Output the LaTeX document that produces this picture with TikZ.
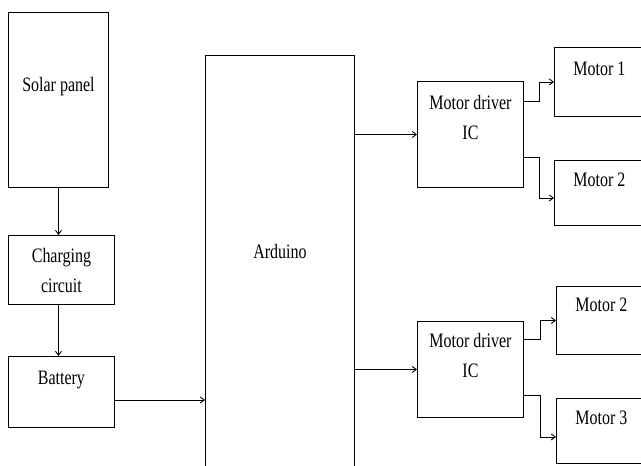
\documentclass[tikz,border=0pt]{standalone}
\usepackage{fontspec}
\setmainfont{Liberation Serif}[FakeStretch=0.78]
\usetikzlibrary{arrows.meta,positioning}

\begin{document}
\begin{tikzpicture}[
  x=1pt, y=1pt,
  blk/.style={draw, line width=0.9pt, anchor=north west, inner sep=0pt},
  lbl/.style={anchor=north, inner sep=0pt, align=center, font=\fontsize{20.5}{30}\selectfont},
  arr/.style={-{Straight Barb[length=4pt,width=6pt]}, line width=0.9pt}
]
\useasboundingbox (0,0) rectangle (641,-466);

% power chain
\node[blk, minimum width=100pt, minimum height=175pt] (solar) at (8,-12) {};
\node[blk, minimum width=106pt, minimum height=69pt] (charging) at (8,-235) {};
\node[blk, minimum width=106pt, minimum height=71pt] (battery) at (8,-356) {};
\node[lbl, below=65pt of solar.north] (solarT) {Solar panel};
\node[lbl, below=13pt of charging.north] (chargingT) {Charging\\circuit};
\node[lbl, below=15pt of battery.north] (batteryT) {Battery};

% controller
\node[blk, minimum width=149pt, minimum height=425pt] (arduino) at (205,-55) {};
\node[lbl, below=189pt of arduino.north] (arduinoT) {Arduino};

% drivers
\node[blk, minimum width=106pt, minimum height=106pt] (drv1) at (417,-81) {};
\node[blk, minimum width=106pt, minimum height=96pt] (drv2) at (417,-321) {};
\node[lbl, below=14pt of drv1.north] (drv1T) {Motor driver\\IC};
\node[lbl, below=12pt of drv2.north] (drv2T) {Motor driver\\IC};

% motors
\node[blk, minimum width=90pt, minimum height=69pt] (m1) at (554,-47) {};
\node[blk, minimum width=90pt, minimum height=65pt] (m2) at (554,-160) {};
\node[blk, minimum width=90pt, minimum height=68pt] (m2b) at (556,-286) {};
\node[blk, minimum width=90pt, minimum height=65pt] (m3) at (556,-398) {};
\node[lbl, below=15pt of m1.north] (m1T) {Motor 1};
\node[lbl, below=13pt of m2.north] (m2T) {Motor 2};
\node[lbl, below=12pt of m2b.north] (m2bT) {Motor 2};
\node[lbl, below=13pt of m3.north] (m3T) {Motor 3};

% connections
\draw[arr] (solar.south) -- (solar.south |- charging.north);
\draw[arr] (charging.south -| solar.south) -- (solar.south |- battery.north);
\coordinate (batout) at ([yshift=-8pt]battery.east);
\draw[arr] (batout) -- (batout -| arduino.west);
\draw[arr] (arduino.east |- drv1.west) -- (drv1.west);
\draw[arr] (arduino.east |- drv2.west) -- (drv2.west);

\coordinate (d1a) at ([yshift=33pt]drv1.east);
\coordinate (d1b) at ([yshift=-23pt]drv1.east);
\coordinate (d2a) at ([yshift=30pt]drv2.east);
\coordinate (d2b) at ([yshift=-26pt]drv2.east);
\draw[arr] (d1a) -- ++(16,0) |- (m1.west);
\draw[arr] (d1b) -- ++(16,0) |- ([yshift=-5pt]m2.west);
\draw[arr] (d2a) -- ++(17,0) |- (m2b.west);
\draw[arr] (d2b) -- ++(17,0) |- ([yshift=-6pt]m3.west);
\end{tikzpicture}
\end{document}
